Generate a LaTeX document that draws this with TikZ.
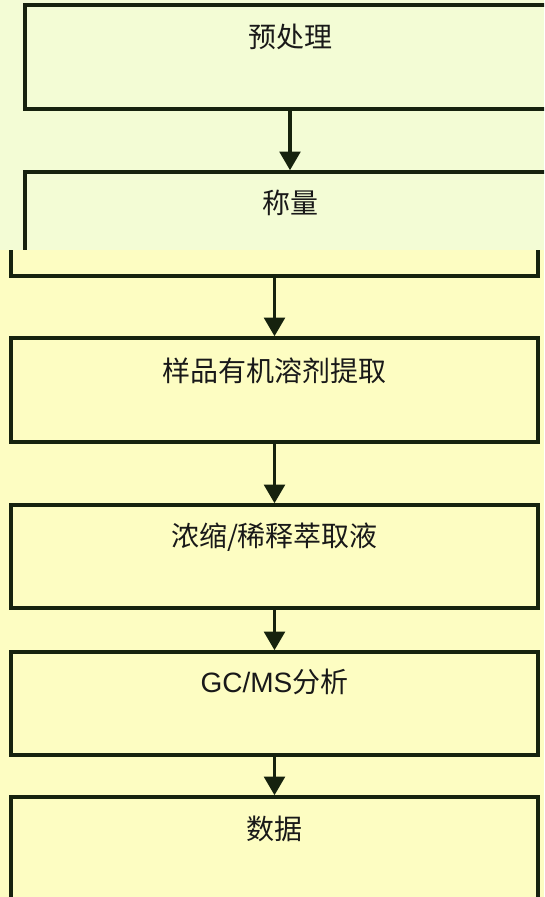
\documentclass[tikz,border=0pt]{standalone}
\usepackage{fontspec}
\setmainfont{Liberation Sans}
\newfontfamily\cjk{Noto Sans CJK SC}
\usetikzlibrary{arrows.meta,calc}
\definecolor{bgtop}{RGB}{243,252,213}
\definecolor{bgbot}{RGB}{253,253,194}
\definecolor{linec}{RGB}{22,34,14}
\definecolor{txtc}{RGB}{25,25,25}
\begin{document}
\begin{tikzpicture}[x=0.75pt,y=-0.75pt,
  stepbox/.style={draw=linec, line width=2.6pt, inner sep=0pt, minimum height=78pt},
  widebox/.style={stepbox, minimum width=397.5pt},
  narrowbox/.style={stepbox, minimum width=395.25pt},
  boxtext/.style={text=txtc, font=\cjk\fontsize{21}{25}\selectfont, inner sep=0pt},
  flow/.style={draw=linec, line width=2.6pt, -{Triangle[width=15.5pt,length=14pt]}}]
\useasboundingbox (0,0) rectangle (544,897);
% upper part
\begin{scope}
  \clip (0,0) rectangle (544,250);
  \fill[bgtop] (0,0) rectangle (544,250);
  \node[widebox] (b1) at (290,57) {};
  \node[widebox] (b2) at (290,224) {};
  \node[boxtext] (t1) at ($(b1.north)+(0,34)$) {预处理};
  \node[boxtext] (t2) at ($(b2.north)+(0,33)$) {称量};
  \draw[flow] (b1.south) -- (b2.north);
\end{scope}
% lower part
\begin{scope}
  \clip (0,250) rectangle (544,897);
  \fill[bgbot] (0,250) rectangle (544,897);
  \node[narrowbox] (b2b) at (274.5,224) {};
  \node[narrowbox] (b3) at (274.5,390) {};
  \node[narrowbox, minimum height=77.25pt] (b4) at (274.5,556.5) {};
  \node[narrowbox, minimum height=77.25pt] (b5) at (274.5,703.5) {};
  \node[narrowbox] (b6) at (274.5,849) {};
  \node[boxtext] (t3) at ($(b3.north)+(0,35)$) {样品有机溶剂提取};
  \node[boxtext] (t4) at ($(b4.north)+(0,34)$) {浓缩/稀释萃取液};
  \node[boxtext] (t5) at ($(b5.north)+(0,32)$) {{\fontspec{Liberation Sans}GC/MS}分析};
  \node[boxtext] (t6) at ($(b6.north)+(0,34)$) {数据};
  \draw[flow] (b2b.south) -- (b3.north);
  \draw[flow] (b3.south) -- (b4.north);
  \draw[flow] (b4.south) -- (b5.north);
  \draw[flow] (b5.south) -- (b6.north);
\end{scope}
\end{tikzpicture}
\end{document}
